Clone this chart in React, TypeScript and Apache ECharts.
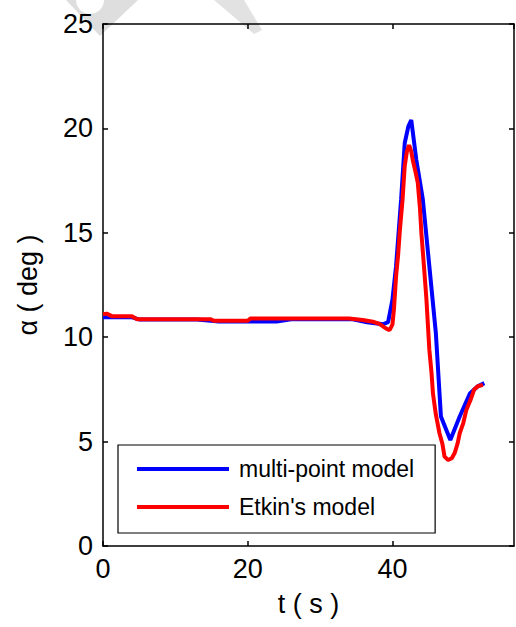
import React, { useEffect, useRef } from "react";
import * as echarts from "echarts";

const seriesNames = ["multi-point model", "Etkin's model"];
const seriesColors = ["#0000ff", "#ff0000"];

const tBlue = [0, 4, 5, 13, 16, 24, 26, 34.5, 36.5, 38.7, 39.4, 40.0, 40.5, 41.2, 41.7, 42.2, 42.6, 43.3, 44.2, 45.1, 46.0, 46.7, 48.0, 49.3, 50.7, 51.8, 52.7];
const aBlue = [10.95, 10.95, 10.85, 10.85, 10.75, 10.75, 10.86, 10.86, 10.72, 10.62, 10.72, 11.8, 13.4, 16.6, 19.3, 20.1, 20.4, 18.5, 16.6, 13.4, 10.2, 6.2, 5.08, 6.2, 7.3, 7.65, 7.8];

const tRed = [0, 0.5, 1.3, 4.0, 4.7, 14.9, 15.3, 20.0, 20.4, 34.0, 35.9, 37.3, 38.2, 39.1, 39.6, 40.0, 40.2, 40.5, 40.8, 41.0, 41.4, 41.7, 42.0, 42.3, 42.6, 42.8, 43.2, 43.5, 43.8, 44.0, 44.4, 44.7, 44.9, 45.1, 45.4, 45.6, 46.0, 46.5, 46.9, 47.2, 47.7, 48.2, 48.6, 49.0, 49.3, 49.8, 50.2, 50.8, 51.3, 51.8, 52.5];
const aRed = [11.1, 11.13, 11.0, 11.0, 10.86, 10.86, 10.79, 10.79, 10.9, 10.9, 10.82, 10.74, 10.64, 10.42, 10.34, 10.6, 11.3, 12.9, 14.0, 15.0, 16.6, 18.2, 18.9, 19.2, 18.9, 18.5, 17.9, 17.4, 16.2, 15.0, 13.2, 11.8, 10.6, 9.4, 8.3, 7.3, 6.3, 5.4, 4.9, 4.28, 4.12, 4.2, 4.45, 4.9, 5.4, 5.9, 6.5, 7.0, 7.5, 7.65, 7.72];

const xTicks = [0, 20, 40];
const yTicks = [0, 5, 10, 15, 20, 25];

const font = "Liberation Sans, Arial, sans-serif";

export default function App() {
  const ref = useRef<HTMLDivElement>(null);
  useEffect(() => {
    if (!ref.current) return;
    const chart = echarts.init(ref.current, undefined, { renderer: "svg" });
    const blueData = tBlue.map((t, i) => [t, aBlue[i]]);
    const redData = tRed.map((t, i) => [t, aRed[i]]);
    const axisLine = { show: true, onZero: false, lineStyle: { color: "#000", width: 1.5 } };
    const axisTick = { show: true, inside: true, length: 5, lineStyle: { color: "#000", width: 1.5 } };
    const xFmt = (v: number) => (xTicks.indexOf(v) >= 0 ? String(v) : "");
    const yFmt = (v: number) => (yTicks.indexOf(v) >= 0 ? String(v) : "");
    chart.setOption({
      animation: false,
      backgroundColor: "#fff",
      textStyle: { fontFamily: font },
      grid: { left: 103, right: 2, top: 24, bottom: 81, containLabel: false },
      graphic: [
        {
          type: "polygon",
          z: -10,
          silent: true,
          shape: { points: [[66, 0], [100, 36], [138, 0]] },
          style: { fill: "#dedede" },
        },
        {
          type: "circle",
          z: -9,
          silent: true,
          shape: { cx: 90, cy: 0, r: 14 },
          style: { fill: "#fff" },
        },
        {
          type: "polygon",
          z: -10,
          silent: true,
          shape: { points: [[214, 0], [244, 0], [262, 30], [254, 34]] },
          style: { fill: "#e2e2e2" },
        },
      ],
      xAxis: [
        {
          type: "value",
          min: 0,
          max: 56.8,
          interval: 20,
          position: "bottom",
          axisLine,
          axisTick,
          splitLine: { show: false },
          axisLabel: { fontSize: 27, color: "#000", margin: 9, formatter: xFmt, showMaxLabel: false, fontFamily: font },
          name: "t ( s )",
          nameLocation: "middle",
          nameGap: 44,
          nameTextStyle: { fontSize: 27, color: "#000", fontFamily: font },
        },
        {
          type: "value",
          min: 0,
          max: 56.8,
          interval: 20,
          position: "top",
          axisLine,
          axisTick,
          splitLine: { show: false },
          axisLabel: { show: false },
        },
      ],
      yAxis: [
        {
          type: "value",
          min: 0,
          max: 25,
          interval: 5,
          position: "left",
          axisLine,
          axisTick,
          splitLine: { show: false },
          axisLabel: { fontSize: 27, color: "#000", margin: 10, formatter: yFmt, fontFamily: font },
          name: "α ( deg )",
          nameLocation: "middle",
          nameGap: 62,
          nameTextStyle: { fontSize: 27, color: "#000", fontFamily: font },
        },
        {
          type: "value",
          min: 0,
          max: 25,
          interval: 5,
          position: "right",
          axisLine,
          axisTick,
          splitLine: { show: false },
          axisLabel: { show: false },
        },
      ],
      legend: {
        left: 118,
        top: 445,
        orient: "vertical",
        icon: "rect",
        itemWidth: 92,
        itemHeight: 4,
        itemGap: 14,
        padding: [12, 21, 14, 19],
        borderColor: "#000",
        borderWidth: 1.2,
        backgroundColor: "#fff",
        textStyle: { fontSize: 23, color: "#000", lineHeight: 24, padding: [0, 0, 0, 5], fontFamily: font },
        data: seriesNames,
      },
      series: [
        {
          name: seriesNames[0],
          type: "line",
          data: blueData,
          showSymbol: false,
          lineStyle: { color: seriesColors[0], width: 4 },
          itemStyle: { color: seriesColors[0] },
          clip: true,
        },
        {
          name: seriesNames[1],
          type: "line",
          data: redData,
          showSymbol: false,
          lineStyle: { color: seriesColors[1], width: 4 },
          itemStyle: { color: seriesColors[1] },
          clip: true,
        },
      ],
    });
    return () => chart.dispose();
  }, []);
  return (
    <div
      ref={ref}
      style={{ position: "absolute", left: 0, top: 0, width: 516, height: 627 }}
    />
  );
}
